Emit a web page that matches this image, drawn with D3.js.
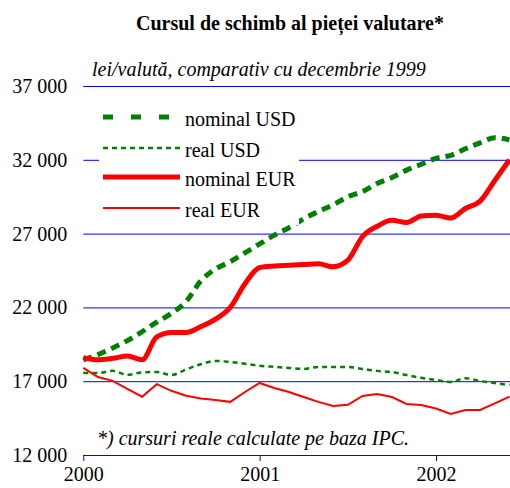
<!DOCTYPE html>
<html>
<head>
<meta charset="utf-8">
<script src="https://cdn.jsdelivr.net/npm/d3@7"></script>
<style>
  body { margin: 0; background: #fff; }
  text { font-family: "Liberation Serif", "Times New Roman", serif; }
</style>
</head>
<body>
<svg id="chart" width="510" height="488"></svg>
<script>
// monthly values, Jan 2000 .. Jun 2002
var nominalUSD = [18450, 18800, 19250, 19750, 20350, 21000, 21600, 22400, 23800, 24600,
                  25100, 25700, 26300, 26900, 27400, 28000, 28500, 28950, 29500, 29850,
                  30400, 30800, 31300, 31700, 32100, 32300, 32750, 33150, 33500, 33350];
var realUSD = [17550, 17550, 17700, 17430, 17600, 17620, 17420, 17800, 18150, 18370,
               18300, 18180, 18050, 17970, 17900, 17830, 17960, 17960, 17960, 17830,
               17700, 17620, 17420, 17230, 17080, 16950, 17200, 17010, 16880, 16740];
var nominalEUR = [18600, 18450, 18550, 18700, 18450, 20000, 20300, 20300, 20700, 21200,
                  22000, 23600, 24700, 24800, 24850, 24900, 24950, 24750, 25200, 26800,
                  27500, 27900, 27750, 28200, 28250, 28050, 28700, 29200, 30600, 32000];
var realEUR = [17900, 17280, 17020, 16480, 15950, 16800, 16350, 16020, 15830, 15720,
               15600, 16270, 16880, 16540, 16270, 15930, 15600, 15320, 15400, 16000,
               16130, 15930, 15460, 15390, 15150, 14780, 15050, 15050, 15500, 15950];
var yearTicks = [0, 12, 24];
var yearLabels = ["2000", "2001", "2002"];
var valueTicks = [12000, 17000, 22000, 27000, 32000, 37000];
var seriesNames = ["nominal USD", "real USD", "nominal EUR", "real EUR"];

var svg = d3.select("#chart");

var x = d3.scaleLinear().domain([0, 24]).range([83.3, 436]);
var y = d3.scaleLinear().domain([12000, 37000]).range([455, 86]);

var fmt = d3.formatLocale({decimal: ",", thousands: " ", grouping: [3], currency: ["", ""]}).format(",d");

// title + subtitle
svg.append("text")
   .attr("x", 290).attr("y", 30)
   .attr("text-anchor", "middle")
   .attr("font-size", "20px")
   .attr("font-weight", "bold")
   .text("Cursul de schimb al pieței valutare*");

svg.append("text")
   .attr("x", 92).attr("y", 76)
   .attr("font-size", "20px")
   .attr("font-style", "italic")
   .text("lei/valută, comparativ cu decembrie 1999");

// gridlines
var yAxis = d3.axisLeft(y)
    .tickValues(valueTicks)
    .tickSize(-(510 - 83.3))
    .tickFormat(fmt);

var gy = svg.append("g")
    .attr("transform", "translate(83.3,0)")
    .call(yAxis);
gy.select(".domain").remove();
gy.selectAll(".tick line")
  .attr("stroke", "#0000ff")
  .attr("stroke-width", 1);
gy.selectAll(".tick text")
  .attr("x", -16)
  .attr("font-size", "20px")
  .attr("font-family", "Liberation Serif")
  .attr("fill", "#000");

// x axis
var xAxis = d3.axisBottom(x)
    .tickValues(yearTicks)
    .tickSize(6)
    .tickSizeOuter(0)
    .tickFormat(function(d, i){ return yearLabels[i]; });

var gx = svg.append("g")
    .attr("transform", "translate(0,455)")
    .call(xAxis);
gx.select(".domain").remove();
gx.selectAll(".tick line").attr("stroke", "#0000ff");
gx.selectAll(".tick text")
  .attr("y", 12)
  .attr("font-size", "20px")
  .attr("font-family", "Liberation Serif")
  .attr("fill", "#000");

// series
var styles = [
  {data: nominalUSD, color: "#008000", width: 5, dash: "9,6", curve: d3.curveMonotoneX},
  {data: realUSD, color: "#008000", width: 2.5, dash: "5,4", curve: d3.curveMonotoneX},
  {data: nominalEUR, color: "#ff0000", width: 5, dash: null, curve: d3.curveMonotoneX},
  {data: realEUR, color: "#ff0000", width: 2, dash: null, curve: d3.curveLinear}
];

styles.forEach(function(s){
  var line = d3.line()
      .x(function(d, i){ return x(i); })
      .y(function(d){ return y(d); })
      .curve(s.curve);
  svg.append("path")
     .datum(s.data)
     .attr("d", line)
     .attr("fill", "none")
     .attr("stroke", s.color)
     .attr("stroke-width", s.width)
     .attr("stroke-dasharray", s.dash);
});

// legend
var legend = svg.append("g");
legend.append("rect")
      .attr("x", 99).attr("y", 97)
      .attr("width", 200).attr("height", 128)
      .attr("fill", "#fff");

var legendY = [117, 148, 177, 208];
seriesNames.forEach(function(name, i){
  var s = styles[i];
  legend.append("line")
        .attr("x1", 103).attr("x2", i == 0 ? 172 : 180)
        .attr("y1", legendY[i]).attr("y2", legendY[i])
        .attr("stroke", s.color)
        .attr("stroke-width", s.width)
        .attr("stroke-dasharray", i == 0 ? "10,18" : s.dash);
  legend.append("text")
        .attr("x", 185).attr("y", legendY[i] + 8.5)
        .attr("font-size", "20px")
        .text(name);
});

// footnote
svg.append("text")
   .attr("x", 97).attr("y", 445)
   .attr("font-size", "20px")
   .attr("font-style", "italic")
   .text("*) cursuri reale calculate pe baza IPC.");
</script>
</body>
</html>
